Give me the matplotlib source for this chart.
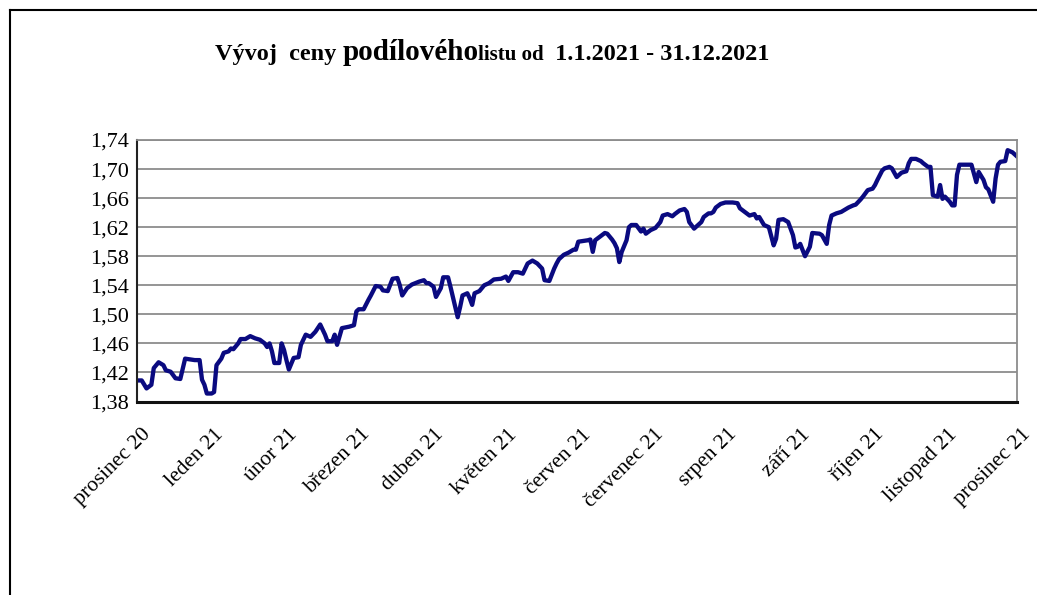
import matplotlib
matplotlib.use("Agg")
import matplotlib.pyplot as plt
import numpy as np
import pandas as pd
from matplotlib.lines import Line2D
from matplotlib.transforms import ScaledTranslation

# price of the fund unit
START = "2020-12-31"
DAYS = [
    0, 2, 4, 6, 7, 9, 11, 12, 14, 16, 18, 20, 22, 24, 26, 27, 28, 29, 31, 32,
    33, 35, 36, 38, 39, 40, 42, 43, 45, 47, 49, 51, 53, 54, 55, 56, 57, 59, 60, 61,
    62, 63, 65, 67, 68, 70, 72, 74, 76, 78, 79, 81, 82, 83, 85, 88, 90, 91, 92, 94,
    96, 97, 99, 101, 102, 104, 106, 108, 109, 110, 112, 114, 117, 119, 120, 121, 123, 124, 126, 127,
    129, 130, 132, 133, 134, 135, 137, 138, 139, 140, 142, 144, 146, 148, 151, 153, 154, 156, 158, 160,
    162, 164, 166, 168, 169, 171, 173, 174, 175, 177, 179, 181, 182, 183, 185, 187, 188, 189, 190, 192,
    194, 195, 197, 198, 199, 200, 201, 203, 204, 205, 207, 209, 210, 211, 213, 215, 217, 218, 220, 222,
    223, 225, 227, 228, 229, 231, 232, 234, 235, 237, 238, 239, 240, 242, 244, 247, 249, 250, 252, 254,
    256, 257, 258, 260, 262, 264, 265, 266, 268, 270, 272, 273, 274, 275, 277, 279, 280, 283, 284, 286,
    287, 288, 290, 292, 294, 295, 297, 298, 300, 301, 303, 305, 306, 307, 309, 310, 312, 313, 315, 316,
    317, 319, 320, 321, 323, 325, 326, 328, 329, 330, 332, 333, 334, 335, 337, 338, 339, 340, 341, 343,
    345, 346, 347, 348, 349, 351, 352, 353, 355, 356, 357, 358, 360, 361, 363, 365,
]
PRICES = [
    1.409, 1.409, 1.398, 1.403, 1.426, 1.434, 1.430, 1.423, 1.421, 1.412, 1.411, 1.439, 1.438, 1.437, 1.437, 1.410, 1.403, 1.391, 1.391, 1.393,
    1.430, 1.439, 1.447, 1.449, 1.453, 1.452, 1.460, 1.466, 1.466, 1.470, 1.467, 1.465, 1.460, 1.455, 1.460, 1.449, 1.433, 1.433, 1.460, 1.451,
    1.437, 1.424, 1.440, 1.441, 1.458, 1.472, 1.469, 1.476, 1.486, 1.472, 1.463, 1.463, 1.472, 1.458, 1.481, 1.483, 1.485, 1.504, 1.507, 1.507,
    1.520, 1.526, 1.539, 1.538, 1.533, 1.532, 1.549, 1.550, 1.540, 1.526, 1.536, 1.541, 1.545, 1.547, 1.543, 1.543, 1.538, 1.524, 1.536, 1.551,
    1.551, 1.538, 1.510, 1.496, 1.510, 1.526, 1.529, 1.522, 1.513, 1.529, 1.532, 1.540, 1.543, 1.548, 1.549, 1.552, 1.546, 1.558, 1.558, 1.556,
    1.570, 1.574, 1.570, 1.563, 1.547, 1.546, 1.563, 1.570, 1.576, 1.582, 1.585, 1.589, 1.589, 1.600, 1.601, 1.602, 1.603, 1.586, 1.602, 1.607,
    1.612, 1.611, 1.603, 1.598, 1.591, 1.572, 1.586, 1.602, 1.620, 1.623, 1.623, 1.614, 1.618, 1.611, 1.616, 1.619, 1.627, 1.636, 1.638, 1.635,
    1.638, 1.643, 1.645, 1.641, 1.627, 1.618, 1.621, 1.627, 1.634, 1.639, 1.639, 1.641, 1.647, 1.652, 1.654, 1.654, 1.653, 1.646, 1.641, 1.636,
    1.638, 1.632, 1.634, 1.623, 1.620, 1.595, 1.604, 1.630, 1.631, 1.627, 1.609, 1.592, 1.593, 1.597, 1.580, 1.593, 1.612, 1.611, 1.609, 1.597,
    1.623, 1.636, 1.639, 1.641, 1.645, 1.647, 1.650, 1.651, 1.658, 1.662, 1.671, 1.673, 1.678, 1.685, 1.698, 1.701, 1.703, 1.701, 1.689, 1.692,
    1.695, 1.697, 1.708, 1.714, 1.714, 1.711, 1.708, 1.703, 1.703, 1.664, 1.662, 1.678, 1.659, 1.662, 1.655, 1.650, 1.650, 1.692, 1.706, 1.706,
    1.706, 1.706, 1.694, 1.682, 1.696, 1.685, 1.675, 1.672, 1.655, 1.687, 1.706, 1.710, 1.711, 1.726, 1.723, 1.717,
]
MONTH_LABELS = [
    "prosinec 20", "leden 21", "únor 21", "březen 21", "duben 21", "květen 21",
    "červen 21", "červenec 21", "srpen 21", "září 21", "říjen 21", "listopad 21",
    "prosinec 21",
]
Y_TICKS = [1.38, 1.42, 1.46, 1.50, 1.54, 1.58, 1.62, 1.66, 1.70, 1.74]

TITLE_PARTS = [
    ("Vývoj  ceny ", 17.5),
    ("podílového", 21),
    ("listu od ", 15),
    (" 1.1.2021 - 31.12.2021", 17.5),
]

plt.rcParams["font.family"] = ["Liberation Serif", "DejaVu Serif"]

dates = pd.Timestamp(START) + pd.to_timedelta(DAYS, unit="D")

fig = plt.figure(figsize=(10.37, 5.95), dpi=100)
ax = fig.add_axes([0.132, 0.3252, 0.849, 0.4395])

ax.plot(dates, PRICES, color="#0a0a80", lw=3.1, solid_joinstyle="round")

x0 = pd.Timestamp(START)
x1 = x0 + pd.Timedelta(days=365)
ax.set_xlim(x0, x1)
ax.set_ylim(Y_TICKS[0], Y_TICKS[-1])

tick_pos = [x0 + (x1 - x0) * i / 12 for i in range(len(MONTH_LABELS))]
ax.set_xticks(tick_pos)
ax.set_xticklabels(MONTH_LABELS, rotation=45, ha="right", va="top",
                   rotation_mode="anchor", fontsize=15.5)
ax.set_yticks(Y_TICKS)
ax.set_yticklabels([f"{v:.2f}".replace(".", ",") for v in Y_TICKS], fontsize=16)
ax.tick_params(axis="x", length=0, pad=17)
ax.tick_params(axis="y", length=0, pad=6)

# nudge the slanted month labels a little to the right
shift = ScaledTranslation(4 / 100, 0, fig.dpi_scale_trans)
for lbl in ax.get_xticklabels():
    lbl.set_transform(lbl.get_transform() + shift)

ax.grid(axis="y", color="#8c8c8c", lw=1.3)
ax.set_axisbelow(True)
for side in ("top", "right"):
    ax.spines[side].set_color("#8c8c8c")
    ax.spines[side].set_linewidth(1.3)
ax.spines["left"].set_color("#222222")
ax.spines["left"].set_linewidth(1.5)
ax.spines["bottom"].set_color("#111111")
ax.spines["bottom"].set_linewidth(2.2)

# outer chart frame (top and left edges visible)
fig.add_artist(Line2D([10 / 1037, 10 / 1037], [0, 1 - 10 / 595], color="black", lw=1.5))
fig.add_artist(Line2D([10 / 1037, 1], [1 - 10 / 595, 1 - 10 / 595], color="black", lw=1.5))

# title with mixed sizes, laid out piece by piece
renderer = fig.canvas.get_renderer()
x = 215 / 1037
y = 1 - 60 / 595
for text, size in TITLE_PARTS:
    t = fig.text(x, y, text, fontsize=size, fontweight="bold", ha="left", va="baseline")
    bb = t.get_window_extent(renderer=renderer)
    x = bb.x1 / fig.bbox.width

fig.savefig("out.png", dpi=100)
